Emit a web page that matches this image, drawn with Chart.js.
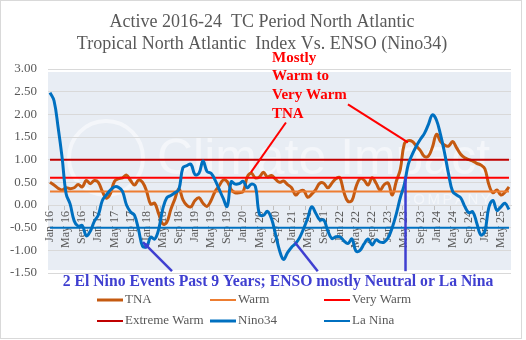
<!DOCTYPE html>
<html lang="en">
<head>
<meta charset="UTF-8">
<title>TNA vs ENSO</title>
<script src="https://cdn.jsdelivr.net/npm/chart.js"></script>
<style>
    body { margin: 0; background: #fff; }
    #wrap { width: 526px; height: 340px; }
</style>
</head>
<body>
<div id="wrap"><canvas id="chart" width="526" height="340"></canvas></div>
<script>
// monthly categories, Jan 16 .. Jul 25
const monthNames = ['Jan', 'Feb', 'Mar', 'Apr', 'May', 'Jun', 'Jul', 'Aug', 'Sep', 'Oct', 'Nov', 'Dec'];
const months = [];
for (let yr = 16; yr <= 25; yr++) monthNames.forEach(m => months.push(m + ' ' + yr));
months.length = 115;

const tickLabels = ['Jan 16', 'May 16', 'Sep 16', 'Jan 17', 'May 17', 'Sep 17', 'Jan 18', 'May 18', 'Sep 18',
    'Jan 19', 'May 19', 'Sep 19', 'Jan 20', 'May 20', 'Sep 20', 'Jan 21', 'May 21', 'Sep 21', 'Jan 22', 'May 22',
    'Sep 22', 'Jan 23', 'May 23', 'Sep 23', 'Jan 24', 'May 24', 'Sep 24', 'Jan 25', 'May 25'];

const tna = [
    0.50, 0.44, 0.37, 0.33, 0.38, 0.36, 0.38, 0.45, 0.40, 0.54, 0.47, 0.54,
    0.50, 0.30, 0.15, 0.25, 0.52, 0.58, 0.60, 0.66, 0.54, 0.44, 0.55, 0.50,
    0.30, 0.02, 0.04, -0.20, -0.42, -0.38, -0.10, 0.13, 0.36, 0.12, -0.01, -0.04,
    0.10, 0.16, 0.04, -0.03, 0.10, 0.30, 0.42, 0.55, 0.52, 0.34, 0.27, 0.27,
    0.30, 0.62, 0.70, 0.60, 0.62, 0.72, 0.62, 0.65, 0.57, 0.50, 0.53, 0.45,
    0.38, 0.22, 0.30, 0.32, 0.17, 0.24, 0.34, 0.48, 0.48, 0.38, 0.48, 0.58,
    0.60, 0.28, 0.08, 0.10, 0.40, 0.58, 0.55, 0.44, 0.60, 0.48, 0.33, 0.45,
    0.48, 0.22, 0.52, 0.78, 1.35, 1.42, 1.40, 1.30, 1.20, 1.07, 1.08, 1.28,
    1.56, 1.40, 1.32, 1.30, 1.40, 1.26, 1.12, 1.04, 1.00, 0.97, 0.92, 0.88,
    0.80, 0.45, 0.27, 0.33, 0.22, 0.28, 0.40
];

const nino34 = [
    2.48, 2.30, 1.72, 1.05, 0.25, 0.02, -0.35, -0.47, -0.45, -0.68, -0.58, -0.36,
    -0.22, 0.10, 0.22, 0.33, 0.40, 0.39, 0.30, 0.00, -0.15, -0.23, -0.55, -0.91,
    -0.92, -0.71, -0.75, -0.53, -0.09, 0.16, 0.21, 0.27, 0.34, 0.82, 0.87, 0.90,
    0.67, 0.70, 0.97, 0.74, 0.70, 0.55, 0.35, 0.15, -0.03, 0.51, 0.46, 0.47,
    0.52, 0.38, 0.46, 0.41, -0.20, -0.23, -0.14, -0.30, -0.64, -1.00, -1.20, -1.05,
    -0.93, -0.85, -0.72, -0.52, -0.29, -0.04, -0.18, -0.33, -0.33, -0.57, -0.74, -0.70,
    -0.70, -0.79, -0.85, -0.75, -1.02, -1.00, -0.86, -0.75, -0.88, -0.77, -0.82, -0.82,
    -0.72, -0.50, -0.20, 0.16, 0.45, 0.90, 1.12, 1.30, 1.45, 1.58, 1.78, 1.99,
    1.87, 1.55, 1.15, 0.68, 0.30, 0.22, 0.16, -0.03, -0.17, -0.15, -0.40, -0.66,
    -0.58, -0.05, 0.10, -0.12, -0.04, 0.04, -0.10
];

// threshold levels
const warmLevel = 0.3;
const veryWarmLevel = 0.6;
const extremeWarmLevel = 1.0;
const laNinaLevel = -0.5;

const yTicks = { min: -1.5, max: 3, step: 0.5 };

const serif = "'Liberation Serif', 'Times New Roman', serif";
const level = v => months.map(() => v);

const decor = {
    id: 'decor',
    beforeDraw(chart) {
        const { ctx, chartArea: a } = chart;
        ctx.save();
        ctx.fillStyle = '#fff';
        ctx.fillRect(0, 0, chart.width, chart.height);
        ctx.fillStyle = '#E8EDF4';
        ctx.fillRect(a.left, a.top + 3, a.right - a.left, a.bottom - a.top - 6);

        // faint watermark
        ctx.strokeStyle = 'rgba(255,255,255,0.5)';
        ctx.fillStyle = 'rgba(255,255,255,0.5)';
        ctx.lineWidth = 4;
        ctx.beginPath();
        ctx.arc(106, 158, 37, 0, Math.PI * 2);
        ctx.stroke();
        ctx.font = "50px 'Liberation Sans', Arial, sans-serif";
        ctx.textBaseline = 'alphabetic';
        ctx.textAlign = 'left';
        const w = ctx.measureText('Climate Impact').width;
        ctx.save();
        ctx.translate(157, 174);
        ctx.scale(333 / w, 1);
        ctx.fillText('Climate Impact', 0, 0);
        ctx.restore();
        ctx.font = "15px 'Liberation Sans', Arial, sans-serif";
        let cx = 400;
        for (const ch of 'COMPANY') {
            ctx.fillText(ch, cx, 204);
            cx += ctx.measureText(ch).width + 2.5;
        }
        ctx.restore();
    },
    afterDraw(chart) {
        const { ctx } = chart;
        const xs = chart.scales.x, ys = chart.scales.y;
        const px = (i, v) => [xs.getPixelForValue(i), ys.getPixelForValue(v)];
        ctx.save();

        // title
        ctx.fillStyle = '#595959';
        ctx.font = '18px ' + serif;
        ctx.textAlign = 'center';
        ctx.textBaseline = 'middle';
        ctx.fillText('Active 2016-24  TC Period North Atlantic', 262, 22);
        ctx.fillText('Tropical North Atlantic  Index Vs. ENSO (Nino34)', 262, 44);

        // red note
        ctx.fillStyle = '#FF0000';
        ctx.font = 'bold 15px ' + serif;
        ctx.textAlign = 'left';
        ['Mostly', 'Warm to', 'Very Warm', 'TNA'].forEach((t, k) => ctx.fillText(t, 272, 58 + k * 18.6));

        const seg = (p, q) => { ctx.beginPath(); ctx.moveTo(p[0], p[1]); ctx.lineTo(q[0], q[1]); ctx.stroke(); };
        ctx.strokeStyle = '#FF0000';
        ctx.lineWidth = 2;
        seg(px(58.6, 1.82), px(49.9, 0.72));
        seg(px(74.0, 2.22), px(88.9, 1.38));

        // blue note
        const blue = '#3F3FD0';
        ctx.strokeStyle = blue;
        ctx.fillStyle = blue;
        ctx.lineWidth = 2.5;
        const a0 = px(30.3, -1.46), a1 = px(23.1, -0.82);
        seg(a0, a1);
        const ang = Math.atan2(a1[1] - a0[1], a1[0] - a0[0]);
        ctx.beginPath();
        ctx.moveTo(a1[0], a1[1]);
        ctx.lineTo(a1[0] - 7 * Math.cos(ang - 0.45), a1[1] - 7 * Math.sin(ang - 0.45));
        ctx.lineTo(a1[0] - 7 * Math.cos(ang + 0.45), a1[1] - 7 * Math.sin(ang + 0.45));
        ctx.closePath();
        ctx.fill();
        seg(px(66.5, -1.46), px(60.8, -0.82));
        seg(px(88.3, 0.63), px(88.3, -1.46));

        ctx.font = 'bold 15.7px ' + serif;
        ctx.textAlign = 'center';
        ctx.fillText('2 El Nino Events Past 9 Years; ENSO mostly Neutral or La Nina', 278, 282);

        // legend, three columns
        const colX = [97, 210, 324];
        ctx.font = '13px ' + serif;
        ctx.textAlign = 'left';
        chart.data.datasets.forEach((ds, k) => {
            const x0 = colX[k % 3], yy = k < 3 ? 300 : 321;
            ctx.strokeStyle = ds.borderColor;
            ctx.lineWidth = ds.borderWidth;
            seg([x0, yy], [x0 + 26, yy]);
            ctx.fillStyle = '#595959';
            ctx.fillText(ds.label, x0 + 28, yy);
        });

        // outer frame
        ctx.strokeStyle = '#D9D9D9';
        ctx.lineWidth = 1;
        ctx.strokeRect(0.5, 0.5, 521, 338);
        ctx.restore();
    }
};

new Chart(document.getElementById('chart'), {
    type: 'line',
    data: {
        labels: months,
        datasets: [
            { label: 'TNA', data: tna, borderColor: '#C55A11', borderWidth: 3, order: 6 },
            { label: 'Warm', data: level(warmLevel), borderColor: '#ED7D31', borderWidth: 2, order: 5 },
            { label: 'Very Warm', data: level(veryWarmLevel), borderColor: '#FF0000', borderWidth: 2, order: 4 },
            { label: 'Extreme Warm', data: level(extremeWarmLevel), borderColor: '#C00000', borderWidth: 2, order: 3 },
            { label: 'Nino34', data: nino34, borderColor: '#0070C0', borderWidth: 3, order: 2 },
            { label: 'La Nina', data: level(laNinaLevel), borderColor: '#0070C0', borderWidth: 2, order: 1 }
        ]
    },
    options: {
        responsive: false,
        animation: false,
        layout: { padding: { top: 69, bottom: 67, right: 15, left: 0 } },
        elements: { point: { radius: 0 }, line: { tension: 0.4 } },
        plugins: { legend: { display: false }, tooltip: { enabled: false }, title: { display: false } },
        scales: {
            x: {
                type: 'category',
                offset: true,
                position: { y: 0 },
                grid: {
                    offset: true,
                    drawOnChartArea: false,
                    tickLength: 4,
                    color: c => tickLabels.includes(months[c.index]) ? '#BFBFBF' : 'rgba(0,0,0,0)'
                },
                border: { color: '#D9D9D9' },
                ticks: {
                    autoSkip: false,
                    minRotation: 90,
                    maxRotation: 90,
                    padding: 2,
                    color: '#595959',
                    font: { family: serif, size: 12 },
                    callback: function (val) {
                        const l = this.getLabelForValue(val);
                        return tickLabels.includes(l) ? l : '';
                    }
                }
            },
            y: {
                min: yTicks.min,
                max: yTicks.max,
                afterFit: s => { s.width = 48; },
                grid: { color: '#D9D9D9', drawTicks: false },
                border: { display: false },
                ticks: {
                    stepSize: yTicks.step,
                    padding: 11,
                    color: '#595959',
                    font: { family: serif, size: 13 },
                    callback: v => v.toFixed(2)
                }
            }
        }
    },
    plugins: [decor]
});
</script>
</body>
</html>
